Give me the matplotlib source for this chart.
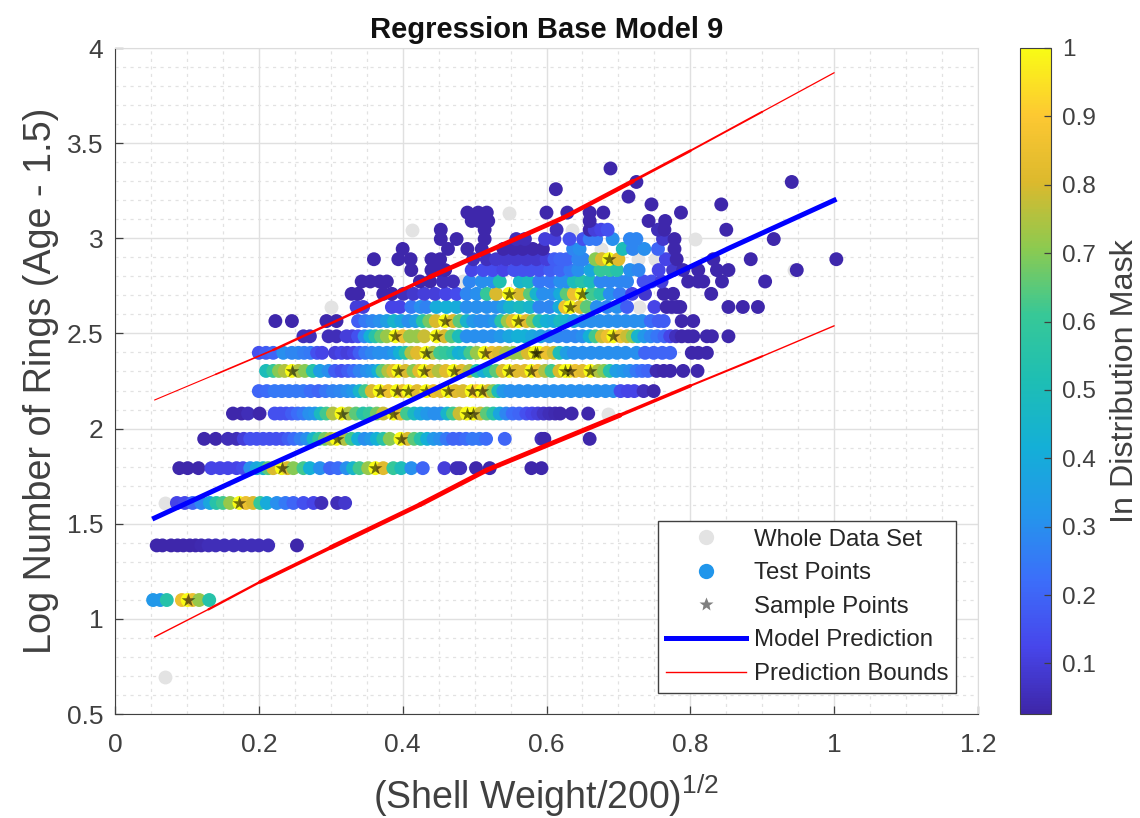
import numpy as np
import matplotlib
matplotlib.use("Agg")
import matplotlib.pyplot as plt
from matplotlib.colors import LinearSegmentedColormap
from matplotlib.lines import Line2D
from matplotlib.ticker import MultipleLocator

plt.rcParams['font.family'] = ['Liberation Sans', 'DejaVu Sans']
plt.rcParams['mathtext.default'] = 'regular'

# one x list and one mask list per ring count, y is the log of the ring count
y_r03 = 1.099
x_r03 = [.053, .063, .072, .093, .101, .108, .117, .131]
m_r03 = [.33, .33, .55, .85, 1, .85, .72, .55]

y_r04 = 1.386
x_r04 = [.058, .066, .078, .087, .095, .104, .112, .12, .13, .14, .152, .165, .178, .19, .2, .213, .253]
m_r04 = [.03, .03, .03, .03, .03, .03, .03, .04, .05, .05, .05, .05, .05, .05, .05, .05, .03]

y_r05 = 1.609
x_r05 = [.086, .097, .108, .12, .132, .141, .150, .160, .173, .182, .192, .202, .211, .225, .237, .248, .262, .276, .287, .309, .32]
m_r05 = [.12, .13, .2, .28, .38, .55, .62, .72, 1, .85, .8, .6, .4, .3, .25, .2, .15, .12, .05, .05, .08]

y_r06 = 1.792
x_r06 = [.0894, .101, .116, .134, .146, .157, .169, .178, .188, .197, .206, .213, .220, .232, .24, .248, .262, .271, .285, .299, .310, .322, .331, .340, .352,
         .362, .373, .387, .398, .412, .428, .458, .475, .480, .502, .521, .579, .593]
m_r06 = [.03, .03, .03, .12, .12, .12, .12, .14, .3, .38, .45, .65, .8, 1, .8, .7, .62, .42, .3, .2, .22, .3, .45, .62, .72,
         1, .82, .6, .5, .3, .2, .1, .05, .05, .03, .03, .03, .03]

y_r07 = 1.946
x_r07 = [.124, .14, .157, .169, .179, .188, .197, .206, .215, .224, .233, .241, .249, .258, .267, .276, .284, .292, .3, .308,
         .319, .329, .338, .347, .356, .364, .373, .382, .397, .407, .416, .425, .434, .443, .452, .461, .47, .479, .488, .497,
         .507, .516, .542, .593, .597, .66]
m_r07 = [.03, .03, .05, .05, .1, .15, .15, .15, .15, .15, .15, .18, .22, .26, .3, .45, .58, .68, .75, 1,
         .75, .62, .42, .3, .33, .42, .55, .7, 1, .8, .65, .55, .42, .33, .3, .25, .2, .2, .22, .25,
         .25, .22, .2, .05, .03, .03]

y_r08 = 2.079
x_r08 = [.164, .176, .185, .201, .222, .23, .238, .246, .254, .262, .27, .278, .286, .294, .303, .315, .325, .335, .345, .354,
         .364, .373, .387, .397, .406, .416, .425, .434, .444, .453, .462, .47, .479, .489, .498, .508, .517, .526, .535, .544,
         .553, .562, .572, .58, .588, .596, .604, .612, .619, .635, .658]
m_r08 = [.03, .03, .05, .03, .15, .15, .15, .18, .22, .25, .3, .32, .48, .62, .75, 1, .75, .65, .55, .6,
         .68, .78, 1, .82, .62, .48, .38, .33, .3, .3, .45, .62, .78, 1, 1, .78, .65, .55, .38, .28,
         .22, .2, .15, .12, .1, .07, .05, .04, .03, .03, .03]

y_r09 = 2.197
x_r09 = [.2, .211, .222, .232, .242, .252, .262, .272, .283, .293, .303, .313, .323, .331, .34, .348, .357, .368, .38, .392,
         .4, .408, .42, .433, .443, .453, .463, .473, .484, .496, .503, .51, .519, .526, .533, .54, .55, .562, .574, .586,
         .598, .61, .622, .634, .646, .658, .67, .682, .693, .703, .713, .722, .735, .749]
m_r09 = [.2, .22, .25, .25, .25, .25, .25, .22, .2, .24, .27, .28, .3, .33, .45, .62, .8, 1, .85, 1,
         .85, 1, .82, 1, .85, .82, 1, .82, .8, 1, .9, 1, .8, .7, .5, .33, .3, .3, .3, .3,
         .3, .3, .3, .3, .3, .3, .3, .3, .3, .14, .12, .12, .06, .03]

y_r10 = 2.303
x_r10 = [.21, .22, .228, .236, .246, .255, .264, .275, .285, .297, .306, .315, .324, .332, .34, .35, .358, .366, .372, .38,
         .387, .394, .404, .415, .423, .43, .44, .45, .46, .471, .482, .493, .503, .512, .521, .53, .539, .548, .558, .57,
         .579, .588, .598, .607, .618, .626, .632, .64, .65, .661, .672, .68, .688, .697, .707, .716, .725, .733, .741, .753,
         .763, .772, .79, .81]
m_r10 = [.5, .6, .7, .75, 1, .75, .7, .55, .35, .3, .18, .15, .18, .22, .27, .3, .33, .42, .65, .75,
         .82, 1, .8, .7, .82, 1, .82, .75, .82, 1, .82, .75, .55, .4, .5, .65, .8, 1, .82, .82,
         1, .85, .75, .62, .8, 1, 1, .85, .82, 1, .75, .7, .55, .35, .33, .3, .25, .22, .2, .04,
         .03, .03, .03, .03]

y_r11 = 2.398
x_r11 = [.2, .21, .22, .234, .246, .255, .263, .272, .281, .288, .306, .315, .323, .332, .34, .348, .357, .367, .378, .388,
         .396, .404, .412, .42, .433, .442, .452, .46, .47, .478, .486, .494, .503, .514, .524, .534, .544, .554, .564, .574,
         .584, .59, .6, .61, .618, .628, .638, .65, .662, .674, .686, .698, .71, .725, .737, .749, .761, .772, .802, .811, .823]
m_r11 = [.15, .18, .2, .3, .28, .28, .26, .25, .15, .12, .1, .12, .1, .12, .18, .25, .28, .3, .3, .33,
         .42, .55, .75, .82, 1, .75, .62, .6, .55, .42, .45, .62, .72, 1, .85, .8, .75, .72, .72, .8,
         1, 1, .85, .78, .5, .35, .3, .3, .3, .3, .3, .3, .3, .3, .2, .2, .2, .2, .03, .03, .03]

y_r12 = 2.485
x_r12 = [.262, .271, .297, .308, .322, .33, .338, .347, .355, .362, .37, .378, .39, .4, .41, .42, .43, .447, .458, .468,
         .478, .489, .5, .512, .524, .536, .548, .56, .57, .58, .592, .604, .616, .628, .64, .65, .66, .668, .677, .685,
         .693, .703, .712, .72, .727, .736, .745, .754, .764, .772, .78, .788, .797, .804, .823, .83, .853]
m_r12 = [.05, .05, .05, .05, .1, .1, .15, .28, .42, .55, .65, .72, 1, .85, .72, .72, .78, 1, .8, .65,
         .5, .3, .3, .3, .3, .33, .38, .42, .42, .38, .35, .3, .28, .28, .28, .3, .42, .62, .78, .85,
         1, .85, .78, .7, .45, .33, .28, .24, .2, .12, .06, .03, .03, .03, .03, .03, .03]

y_r13 = 2.565
x_r13 = [.223, .246, .294, .308, .338, .348, .358, .368, .378, .388, .398, .408, .418, .428, .437, .446, .459, .47, .479, .489,
         .498, .508, .518, .528, .537, .546, .553, .561, .572, .581, .59, .6, .61, .619, .628, .638, .65, .662, .674, .686,
         .698, .71, .722, .733, .745, .756, .763, .788, .804]
m_r13 = [.03, .03, .03, .03, .18, .25, .28, .3, .35, .45, .38, .3, .35, .55, .68, .8, 1, .8, .65, .45,
         .33, .3, .3, .33, .55, .72, .82, 1, .82, .7, .52, .42, .4, .48, .44, .36, .3, .3, .3, .3,
         .3, .3, .3, .3, .22, .18, .18, .03, .03]

y_r14 = 2.639
x_r14 = [.336, .345, .385, .396, .412, .425, .433, .447, .461, .475, .489, .503, .517, .53, .54, .549, .563, .577, .59, .604,
         .618, .626, .633, .647, .656, .67, .684, .698, .712, .75, .767, .774, .781, .786, .853, .873, .894]
m_r14 = [.1, .1, .12, .12, .25, .3, .27, .4, .42, .4, .3, .3, .3, .3, .35, .45, .48, .45, .28, .28,
         .4, .85, 1, .8, .65, .3, .28, .3, .18, .12, .03, .03, .03, .03, .03, .03, .03]

y_r15 = 2.708
x_r15 = [.329, .338, .373, .385, .401, .415, .43, .445, .46, .475, .489, .503, .517, .53, .548, .563, .577, .586, .595, .609,
         .619, .628, .638, .649, .663, .675, .688, .702, .719, .737, .763, .776, .829]
m_r15 = [.03, .03, .03, .03, .06, .08, .1, .1, .12, .14, .28, .3, .6, .8, 1, .8, .65, .45, .3, .3,
         .4, .65, .85, 1, .62, .55, .3, .25, .12, .08, .03, .03, .03]

y_r16 = 2.773
x_r16 = [.343, .355, .368, .378, .424, .438, .456, .47, .493, .51, .525, .535, .563, .575, .59, .605, .619, .628, .638, .649,
         .661, .675, .688, .702, .712, .735, .746, .76, .797, .811, .818, .844, .904]
m_r16 = [.03, .03, .03, .03, .03, .03, .05, .05, .28, .3, .3, .52, .45, .48, .25, .25, .3, .3, .5, .55,
         .5, .28, .28, .28, .28, .15, .15, .1, .03, .03, .03, .03, .03]

y_r17 = 2.833
x_r17 = [.412, .44, .449, .459, .496, .512, .525, .54, .555, .567, .577, .59, .605, .619, .633, .644, .661, .675, .688, .698,
         .716, .728, .756, .776, .79, .811, .837, .853, .948]
m_r17 = [.03, .03, .03, .03, .12, .14, .14, .12, .15, .15, .15, .15, .18, .2, .25, .3, .38, .6, .6, .55,
         .3, .28, .12, .08, .04, .03, .03, .03, .03]

y_r18 = 2.890
x_r18 = [.36, .394, .411, .44, .452, .498, .517, .53, .544, .558, .572, .586, .6, .611, .619, .628, .644, .651, .668, .677,
         .687, .70, .766, .781, .832, .884, 1.003]
m_r18 = [.03, .03, .03, .03, .03, .05, .06, .08, .08, .08, .08, .08, .1, .18, .2, .2, .28, .28, .7, .8,
         1, .82, .12, .03, .03, .03, .03]

y_r19 = 2.944
x_r19 = [.40, .463, .49, .51, .54, .554, .567, .581, .595, .637, .646, .706, .72, .736, .755, .778]
m_r19 = [.03, .03, .03, .03, .03, .03, .03, .03, .03, .28, .3, .5, .28, .3, .2, .03]

y_r20 = 2.996
x_r20 = [.453, .475, .514, .558, .57, .598, .611, .632, .651, .66, .669, .692, .716, .725, .762, .778, .916]
m_r20 = [.03, .03, .03, .05, .05, .1, .1, .15, .15, .25, .25, .3, .28, .28, .08, .03, .03]

y_r21 = 3.045
x_r21 = [.453, .514, .614, .66, .667, .676, .685, .755, .764, .85]
m_r21 = [.03, .03, .05, .03, .1, .12, .15, .05, .03, .03]

y_r22 = 3.091
x_r22 = [.496, .505, .519, .66, .742, .765]
m_r22 = [.03, .03, .03, .03, .03, .03]

y_r23 = 3.135
x_r23 = [.49, .505, .517, .60, .629, .66, .679, .787]
m_r23 = [.03, .03, .03, .03, .03, .03, .03, .03]

y_top = [3.178, 3.178, 3.219, 3.258, 3.296, 3.296, 3.367]
x_top = [.746, .843, .714, .613, .725, .941, .689]
m_top = [.03, .03, .03, .03, .03, .03, .03]

whole_x = [.07, .07, .413, .548, .30, .806, .484, .676, .727, .751, .776, .729, .635, .584, .686, .944]
whole_y = [.693, 1.609, 3.045, 3.135, 2.639, 2.996, 2.773, 2.944, 2.890, 2.890, 2.944, 2.639, 3.045, 2.833, 2.079, 2.833]

sample_x = [.101, .173, .232, .362, .308, .397, .315, .387, .489, .498, .368, .392, .408, .433, .463, .496, .51,
            .246, .394, .43, .471, .548, .579, .626, .632, .661, .433, .514, .584, .587, .39, .447, .693,
            .459, .561, .633, .548, .649, .687]
sample_y = [1.099, 1.609, 1.792, 1.792, 1.946, 1.946, 2.079, 2.079, 2.079, 2.079, 2.197, 2.197, 2.197, 2.197, 2.197, 2.197, 2.197,
            2.303, 2.303, 2.303, 2.303, 2.303, 2.303, 2.303, 2.303, 2.303, 2.398, 2.398, 2.398, 2.398, 2.485, 2.485, 2.485,
            2.565, 2.565, 2.639, 2.708, 2.708, 2.890]

model_x = [.055, .206, .378, .587, .855, 1.0]
model_y = [1.53, 1.793, 2.087, 2.466, 2.95, 3.2]

upper_x = [.055, .14, .22, .33, .438, .623, .72, .80, .90, 1.0]
upper_y = [2.15, 2.285, 2.413, 2.605, 2.797, 3.107, 3.30, 3.46, 3.665, 3.87]
upper_w = [.8, 1.2, 1.8, 2.6, 3.4, 3.2, 2.0, 1.4, .9]

lower_x = [.055, .13, .2016, .30, .424, .517, .702, .80, .90, 1.0]
lower_y = [.905, 1.05, 1.194, 1.375, 1.60, 1.782, 2.07, 2.225, 2.38, 2.54]
lower_w = [1.0, 1.7, 2.6, 3.3, 3.5, 3.5, 2.5, 1.5, 1.0]

parula_like = [(62, 38, 168), (71, 70, 235), (60, 110, 250), (36, 150, 235), (20, 175, 215), (30, 190, 180),
               (55, 200, 151), (140, 202, 80), (220, 185, 45), (253, 200, 50), (249, 251, 21)]
parula = LinearSegmentedColormap.from_list("parula", [(r/255, g/255, b/255) for r, g, b in parula_like])

rows = [(y_r03, x_r03, m_r03), (y_r04, x_r04, m_r04), (y_r05, x_r05, m_r05), (y_r06, x_r06, m_r06),
        (y_r07, x_r07, m_r07), (y_r08, x_r08, m_r08), (y_r09, x_r09, m_r09), (y_r10, x_r10, m_r10),
        (y_r11, x_r11, m_r11), (y_r12, x_r12, m_r12), (y_r13, x_r13, m_r13), (y_r14, x_r14, m_r14),
        (y_r15, x_r15, m_r15), (y_r16, x_r16, m_r16), (y_r17, x_r17, m_r17), (y_r18, x_r18, m_r18),
        (y_r19, x_r19, m_r19), (y_r20, x_r20, m_r20), (y_r21, x_r21, m_r21), (y_r22, x_r22, m_r22),
        (y_r23, x_r23, m_r23)]
test_x = np.concatenate([r[1] for r in rows] + [x_top])
test_m = np.concatenate([r[2] for r in rows] + [m_top])
test_y = np.concatenate([[r[0]] * len(r[1]) for r in rows] + [y_top])

W, H = 1140, 818
text_col = '#404040'
fig = plt.figure(figsize=(W / 100, H / 100), dpi=100)
ax = fig.add_axes([115 / W, 1 - 714 / H, (978 - 115) / W, (714 - 48) / H])

ax.scatter(whole_x, whole_y, s=100, color='#e3e3e3', linewidths=0, zorder=2)
pts = ax.scatter(test_x, test_y, c=test_m, s=100, cmap=parula, vmin=.026, vmax=1, linewidths=0, zorder=3)
ax.scatter(sample_x, sample_y, marker='*', s=110, color='black', alpha=.55, linewidths=0, zorder=4)

for i in range(len(upper_w)):
    ax.plot(upper_x[i:i+2], upper_y[i:i+2], color='red', lw=upper_w[i], zorder=5, solid_capstyle='round')
for i in range(len(lower_w)):
    ax.plot(lower_x[i:i+2], lower_y[i:i+2], color='red', lw=lower_w[i], zorder=5, solid_capstyle='round')
ax.plot(model_x, model_y, color='blue', lw=3.6, zorder=6)

ax.set_xlim(0, 1.2)
ax.set_ylim(.5, 4)
ax.xaxis.set_major_locator(MultipleLocator(.2))
ax.xaxis.set_minor_locator(MultipleLocator(.05))
ax.yaxis.set_major_locator(MultipleLocator(.5))
ax.yaxis.set_minor_locator(MultipleLocator(.1))
ax.xaxis.set_major_formatter(lambda v, pos: f'{v:g}')
ax.yaxis.set_major_formatter(lambda v, pos: f'{v:g}')
ax.set_axisbelow(True)
ax.grid(True, which='major', color='#e0e0e0', lw=1)
ax.grid(True, which='minor', color='#e2e2e2', lw=.9, ls=(0, (2.5, 3.5)))
ax.tick_params(which='major', direction='in', length=5.5, width=.9, colors=text_col, labelsize=19)
ax.tick_params(axis='x', which='major', pad=13.5)
ax.tick_params(axis='y', which='major', pad=8.5)
ax.tick_params(which='minor', length=0)
ax.spines['top'].set_color('#dcdcdc')
ax.spines['right'].set_color('#dcdcdc')
ax.spines['left'].set_color('#404040')
ax.spines['bottom'].set_color('#404040')

ax.set_title('Regression Base Model 9', fontsize=21, fontweight='bold', color='#111111', pad=7)
ax.set_xlabel('(Shell Weight/200)$^{1/2}$', fontsize=27, color=text_col, labelpad=11.5)
ax.set_ylabel('Log Number of Rings (Age - 1.5)', fontsize=27.2, color=text_col, labelpad=5.4)

cax = fig.add_axes([1020 / W, 1 - 714 / H, 31 / W, (714 - 48) / H])
cb = fig.colorbar(pts, cax=cax)
cb.set_ticks([.1, .2, .3, .4, .5, .6, .7, .8, .9, 1])
cb.set_ticklabels(['0.1', '0.2', '0.3', '0.4', '0.5', '0.6', '0.7', '0.8', '0.9', '1'])
cb.ax.tick_params(direction='in', length=5, width=.9, colors=text_col, labelsize=17.5, pad=8)
cb.outline.set_edgecolor('#404040')
cb.set_label('In Distribution Mask', fontsize=23.3, color=text_col, labelpad=10)

handles = [
    Line2D([], [], ls='none', marker='o', ms=11, mfc='#e3e3e3', mec='none'),
    Line2D([], [], ls='none', marker='o', ms=11, mfc='#2196eb', mec='none'),
    Line2D([], [], ls='none', marker='*', ms=10.5, mfc='#808080', mec='none'),
    Line2D([], [], color='blue', lw=3.6),
    Line2D([], [], color='red', lw=1),
]
labels = ['Whole Data Set', 'Test Points', 'Sample Points', 'Model Prediction', 'Prediction Bounds']
leg = ax.legend(handles, labels, loc='lower left', bbox_to_anchor=(543 / 863, 21 / 666), borderaxespad=0,
                fontsize=17.3, labelcolor='#262626', fancybox=False, framealpha=1, edgecolor='#404040',
                handlelength=3.33, handletextpad=.33, labelspacing=.484, borderpad=.33)
leg.get_frame().set_linewidth(1)
leg.set_zorder(10)

fig.savefig("out.png", dpi=100)
